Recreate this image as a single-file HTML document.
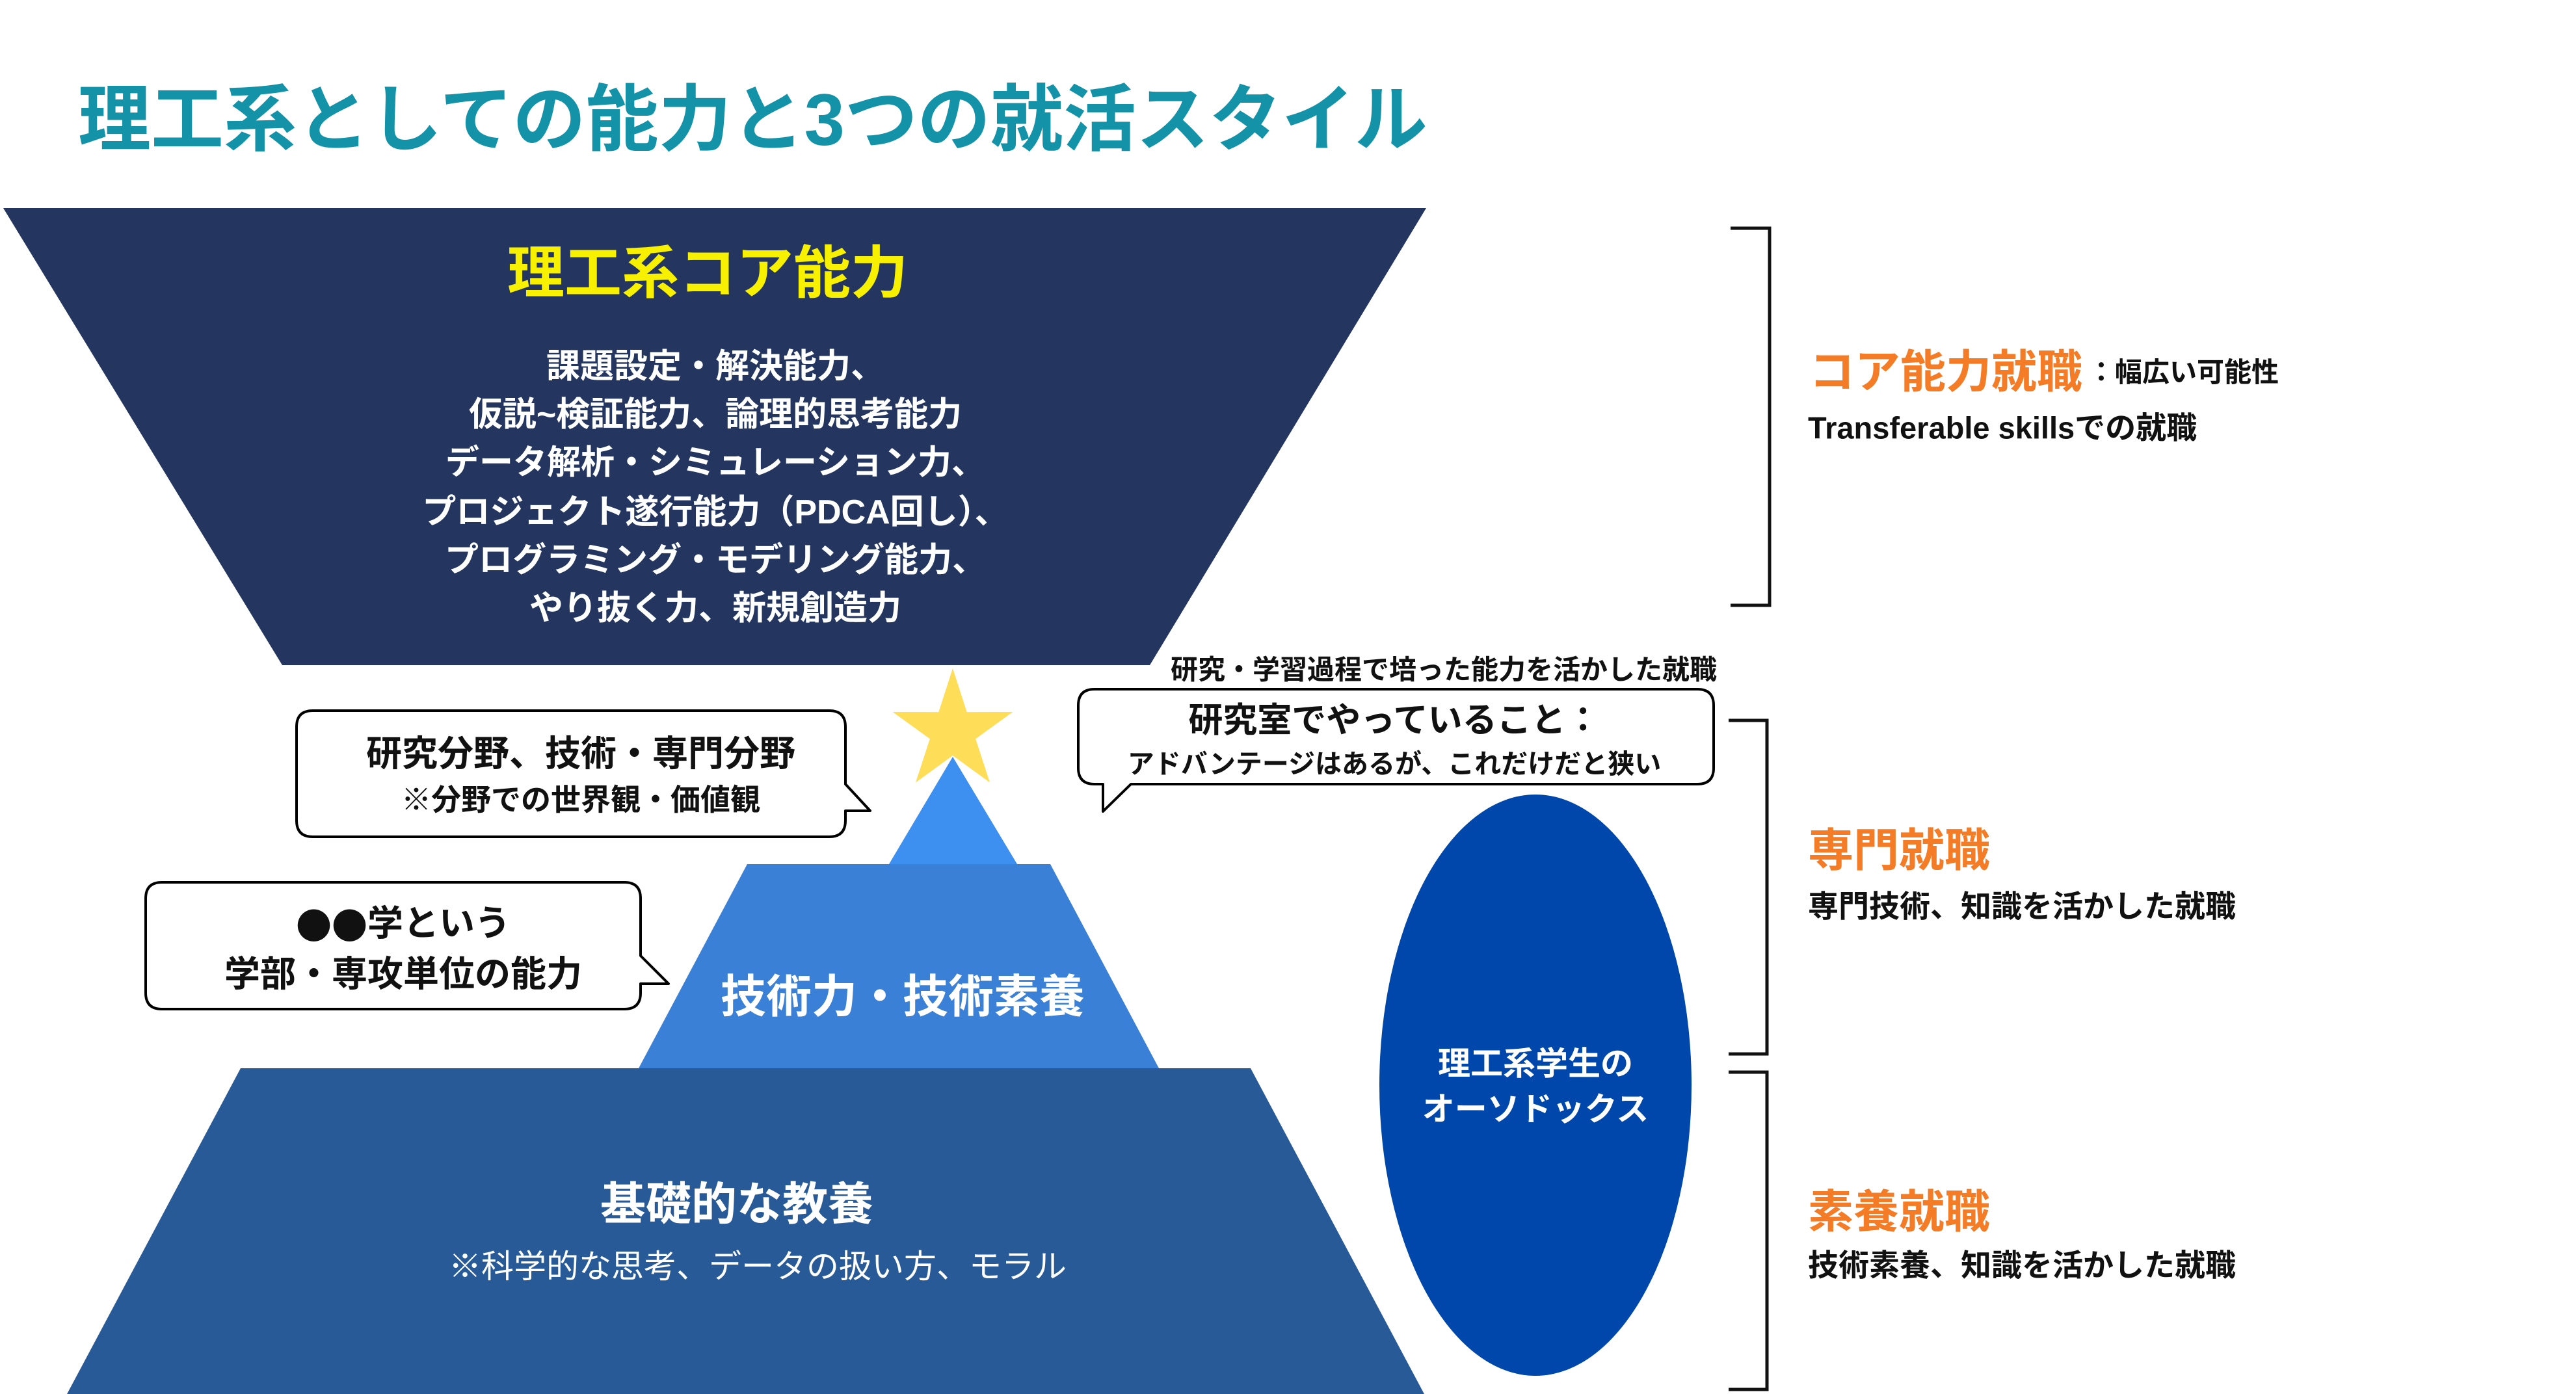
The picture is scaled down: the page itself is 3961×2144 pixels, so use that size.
<!DOCTYPE html>
<html><head><meta charset="utf-8"><style>
html,body{margin:0;padding:0;background:#fff;}
svg{display:block;}
text{font-family:"Liberation Sans","Noto Sans CJK JP",sans-serif;font-weight:bold;}
</style></head><body>
<svg width="3961" height="2144" viewBox="0 0 3961 2144" xmlns="http://www.w3.org/2000/svg">
<rect width="3961" height="2144" fill="#fff"/>
<text x="120" y="184" font-size="112" fill="#1493a8" dominant-baseline="central">理工系としての能力と3つの就活スタイル</text>

<polygon points="5,320 2193,320 1768,1023 434,1023" fill="#243660"/>
<text x="1088" y="420" font-size="88" fill="#f7f000" text-anchor="middle" dominant-baseline="central">理工系コア能力</text>
<g font-size="52" fill="#fff" text-anchor="middle" dominant-baseline="central">
<text x="1100" y="564">課題設定・解決能力、</text>
<text x="1100" y="638">仮説~検証能力、論理的思考能力</text>
<text x="1100" y="712">データ解析・シミュレーション力、</text>
<text x="1100" y="788">プロジェクト遂行能力（PDCA回し）、</text>
<text x="1100" y="862">プログラミング・モデリング能力、</text>
<text x="1100" y="936">やり抜く力、新規創造力</text>
</g>

<polygon points="370,1643 1923,1643 2190,2144 103,2144" fill="#285a98"/>
<polygon points="1149,1329 1615,1329 1782,1643 982,1643" fill="#3a80d6"/>
<polygon points="1465,1164 1564,1329 1367,1329" fill="#3d90f0"/>
<polygon points="1465,1028 1486.7,1095.1 1557.3,1095 1500.2,1136.4 1522,1203.5 1465,1162 1408,1203.5 1429.8,1136.4 1372.7,1095 1443.3,1095.1" fill="#fede58"/>

<text x="1388" y="1533" font-size="70" fill="#fff" text-anchor="middle" dominant-baseline="central">技術力・技術素養</text>
<text x="1133" y="1852" font-size="70" fill="#fff" text-anchor="middle" dominant-baseline="central">基礎的な教養</text>
<text x="1165" y="1948" font-size="50" fill="#fff" style="font-weight:normal" text-anchor="middle" dominant-baseline="central">※科学的な思考、データの扱い方、モラル</text>

<ellipse cx="2361" cy="1669" rx="240" ry="447" fill="#0047ab"/>
<text x="2361" y="1636" font-size="50" fill="#fff" text-anchor="middle" dominant-baseline="central">理工系学生の</text>
<text x="2361" y="1706" font-size="50" fill="#fff" text-anchor="middle" dominant-baseline="central">オーソドックス</text>

<g fill="#fff" stroke="#000" stroke-width="4" stroke-linejoin="round">
<path d="M481 1093 H1275 Q1300 1093 1300 1118 V1206 L1338 1247 H1300 V1262 Q1300 1287 1275 1287 H481 Q456 1287 456 1262 V1118 Q456 1093 481 1093 Z"/>
<path d="M249 1357 H960 Q985 1357 985 1382 V1470 L1028 1513 H985 V1527 Q985 1552 960 1552 H249 Q224 1552 224 1527 V1382 Q224 1357 249 1357 Z"/>
<path d="M1683 1060 H2610 Q2635 1060 2635 1085 V1181 Q2635 1206 2610 1206 H1739 L1696 1248 V1206 H1683 Q1658 1206 1658 1181 V1085 Q1658 1060 1683 1060 Z"/>
</g>
<g fill="#111" text-anchor="middle" dominant-baseline="central">
<text x="893" y="1159" font-size="55">研究分野、技術・専門分野</text>
<text x="893" y="1230" font-size="46">※分野での世界観・価値観</text>
<text x="620" y="1420" font-size="55"><tspan style="font-family:'Noto Sans CJK JP',sans-serif">●●</tspan>学という</text>
<text x="620" y="1498" font-size="55">学部・専攻単位の能力</text>
<text x="2144" y="1108" font-size="53">研究室でやっていること：</text>
<text x="2144" y="1175" font-size="41">アドバンテージはあるが、これだけだと狭い</text>
<text x="2220" y="1030" font-size="42">研究・学習過程で培った能力を活かした就職</text>
</g>

<g fill="none" stroke="#111" stroke-width="5">
<polyline points="2661,351 2721,351 2721,931 2661,931"/>
<polyline points="2658,1108 2717,1108 2717,1621 2658,1621"/>
<polyline points="2658,1649 2717,1649 2717,2137 2658,2137"/>
</g>

<g dominant-baseline="central">
<text x="2782" y="572" font-size="70" fill="#f57c26">コア能力就職<tspan font-size="42" fill="#111" dx="8">：幅広い可能性</tspan></text>
<text x="2780" y="658" font-size="47" fill="#111">Transferable skillsでの就職</text>
<text x="2780" y="1308" font-size="70" fill="#f57c26">専門就職</text>
<text x="2780" y="1394" font-size="47" fill="#111">専門技術、知識を活かした就職</text>
<text x="2780" y="1864" font-size="70" fill="#f57c26">素養就職</text>
<text x="2780" y="1946" font-size="47" fill="#111">技術素養、知識を活かした就職</text>
</g>
</svg>
</body></html>
